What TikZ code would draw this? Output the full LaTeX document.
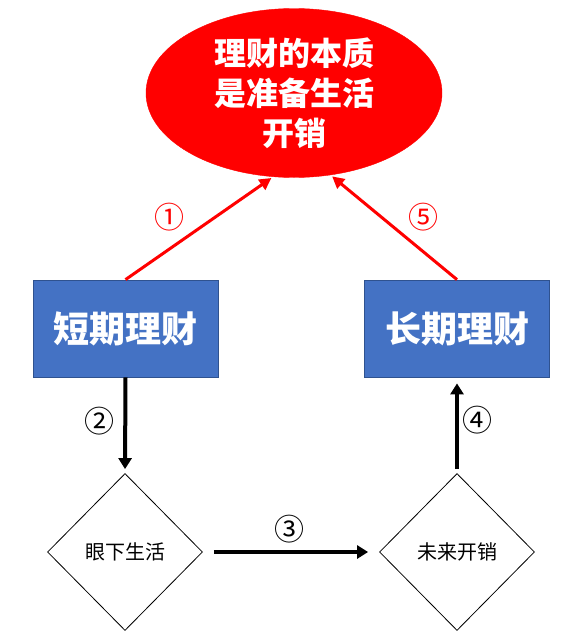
\documentclass[tikz,border=0pt]{standalone}
\usepackage{fontspec}
\setmainfont{Noto Sans CJK SC}
\usetikzlibrary{shapes.geometric,arrows.meta}
\definecolor{boxblue}{HTML}{4472C4}
\definecolor{boxedge}{HTML}{2F528F}
\definecolor{ellred}{HTML}{FF0000}
\tikzset{
  bluebox/.style={rectangle,fill=boxblue,draw=boxedge,line width=0.8pt,minimum width=185pt,minimum height=97pt,inner sep=0pt,text=white,font=\fontsize{36}{40}\selectfont\bfseries},
  dia/.style={diamond,draw=black,line width=0.8pt,minimum width=155pt,minimum height=157pt,inner sep=0pt,font=\fontsize{20}{24}\selectfont},
  redarrow/.style={draw=ellred,line width=3pt,-{Triangle[length=12pt,width=12pt]}},
  blackarrow/.style={draw=black,line width=4pt,-{Triangle[length=11pt,width=13pt]}},
  numlbl/.style={font=\fontsize{30}{32}\selectfont,inner sep=0pt}
}
\begin{document}
\begin{tikzpicture}[x=1pt,y=-1pt]
\useasboundingbox (0,0) rectangle (586,637);
\node[ellipse,fill=ellred,draw=ellred,minimum width=296pt,minimum height=169pt,inner sep=0pt,text=white,align=center,font=\fontsize{32}{40}\selectfont\bfseries] (ell) at (294,93) {理财的本质\\是准备生活\\开销};
\node[bluebox] (lbox) at (125.5,328.5) {短期理财};
\node[bluebox] (rbox) at (457,328.5) {长期理财};
\node[dia] (ldia) at (125,552) {眼下生活};
\node[dia] (rdia) at (457,552) {未来开销};
\draw[redarrow,shorten >=2pt] (lbox.north) -- (ell.256);
\draw[redarrow,shorten >=2pt] (rbox.north) -- (ell.294);
\draw[blackarrow,shorten >=4pt] (lbox.south) -- (ldia.north);
\draw[blackarrow,shorten <=11pt,shorten >=11pt] (ldia.east) -- (rdia.west);
\draw[blackarrow,shorten <=4pt,shorten >=6pt] (rdia.north) -- (rbox.south);
\node[numlbl,text=ellred] (n1) at (169,217) {①};
\node[numlbl,text=ellred] (n5) at (423,217) {⑤};
\node[numlbl] (n2) at (99,421) {②};
\node[numlbl] (n3) at (289,529) {③};
\node[numlbl] (n4) at (477,420) {④};
\end{tikzpicture}
\end{document}
